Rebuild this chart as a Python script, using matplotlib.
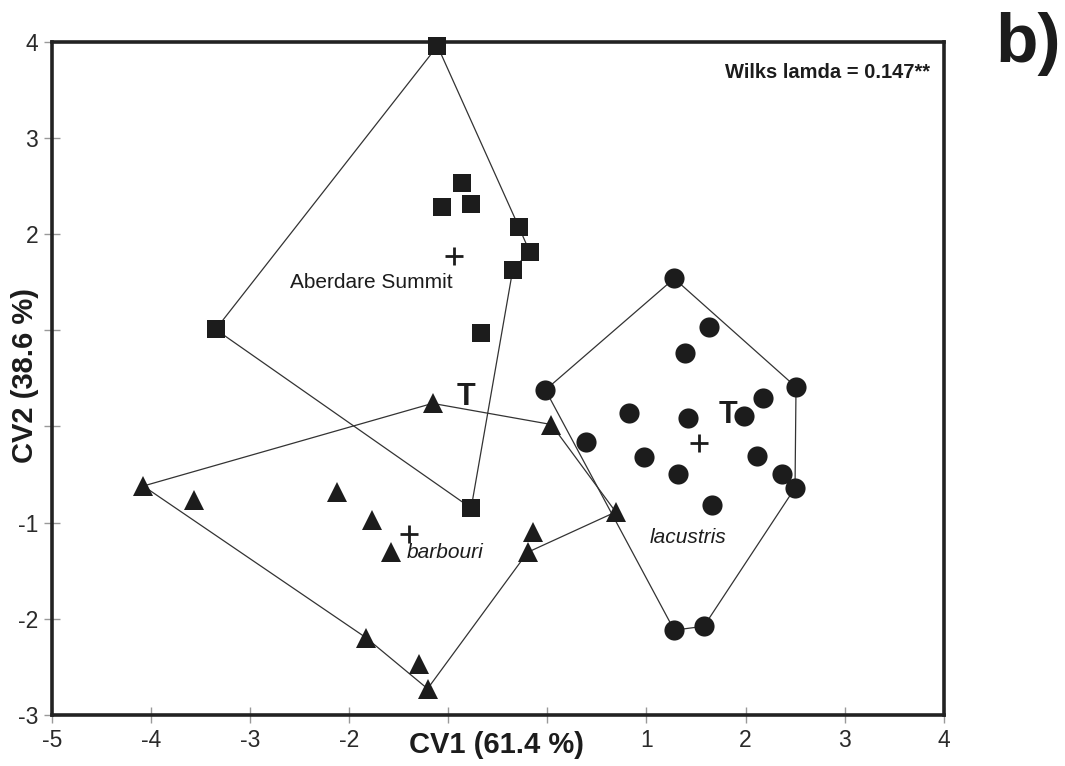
import matplotlib
matplotlib.use("Agg")
import matplotlib.pyplot as plt
import numpy as np

plt.rcParams["font.family"] = ["Liberation Sans", "DejaVu Sans"]

# canonical variate scores
aberdare_x = [-1.11, -0.86, -1.06, -0.77, -0.29, -0.18, -0.35, -0.67, -3.35, -0.77]
aberdare_y = [3.96, 2.53, 2.28, 2.32, 2.08, 1.82, 1.63, 0.97, 1.01, -0.85]

barbouri_x = [-1.16, -4.08, -3.57, -2.12, -1.77, -1.58, -0.15, -0.20, -1.83, -1.30, -1.21, 0.04, 0.69]
barbouri_y = [0.24, -0.62, -0.77, -0.68, -0.97, -1.31, -1.10, -1.31, -2.20, -2.47, -2.73, 0.02, -0.89]

lacustris_x = [1.28, 1.63, 1.39, -0.02, 2.51, 2.18, 0.82, 1.42, 1.98, 0.39, 0.98, 2.12, 2.37, 1.32, 2.50, 1.66, 1.28, 1.58]
lacustris_y = [1.54, 1.03, 0.76, 0.38, 0.41, 0.30, 0.14, 0.09, 0.11, -0.16, -0.32, -0.31, -0.49, -0.49, -0.64, -0.82, -2.12, -2.08]

# which specimens the hand-drawn outline of each group passes through, in order
aberdare_outline = [0, 4, 5, 6, 9, 8, 0]
barbouri_outline = [1, 0, 11, 12, 7, 10, 8, 1]
lacustris_outline = [0, 4, 14, 17, 16, 3, 0]

# group centroids and type specimens
centroid_x = [-0.94, -1.40, 1.53]
centroid_y = [1.77, -1.12, -0.17]
type_x = [-0.82, 1.82]
type_y = [0.31, 0.12]

group_names = ["Aberdare Summit", "barbouri", "lacustris"]
label_x = [-1.78, -1.42, 1.42]
label_y = [1.50, -1.31, -1.16]

xticks = [-5, -4, -3, -2, -1, 0, 1, 2, 3, 4]
xtick_labels = ["-5", "-4", "-3", "-2", "", "", "1", "2", "3", "4"]
yticks = [-3, -2, -1, 0, 1, 2, 3, 4]
ytick_labels = ["-3", "-2", "-1", "", "", "2", "3", "4"]

INK = "#1c1c1c"

fig = plt.figure(figsize=(10.65, 7.66), dpi=100)
ax = fig.add_axes([0.049, 0.067, 0.837, 0.878])

groups = [
    (aberdare_x, aberdare_y, aberdare_outline, "s", 13.5),
    (barbouri_x, barbouri_y, barbouri_outline, "^", 14),
    (lacustris_x, lacustris_y, lacustris_outline, "o", 14.5),
]
for xs, ys, outline, marker, ms in groups:
    xs, ys = np.asarray(xs), np.asarray(ys)
    ax.plot(xs[outline], ys[outline], color="#333333", lw=0.9, zorder=2)
    ax.plot(xs, ys, ls="none", marker=marker, ms=ms, color=INK,
            markeredgewidth=0, zorder=3, clip_on=False)

ax.plot(centroid_x, centroid_y, ls="none", marker="+", ms=13, mew=2,
        color=INK, zorder=4)
for x, y in zip(type_x, type_y):
    ax.text(x, y, "T", fontsize=22, fontweight="bold", color=INK,
            ha="center", va="center", zorder=4)

ax.text(label_x[0], label_y[0], group_names[0], fontsize=15,
        ha="center", va="center", color=INK)
ax.text(label_x[1], label_y[1], group_names[1], fontsize=15, style="italic",
        ha="left", va="center", color=INK)
ax.text(label_x[2], label_y[2], group_names[2], fontsize=15, style="italic",
        ha="center", va="center", color=INK)

ax.text(0.985, 0.955, "Wilks lamda = 0.147**", transform=ax.transAxes,
        fontsize=14.5, fontweight="bold", ha="right", va="center", color=INK)
fig.text(0.965, 0.943, "b)", fontsize=50, fontweight="bold",
         ha="center", va="center", color=INK)

ax.set_xlim(-5, 4)
ax.set_ylim(-3, 4)
ax.set_xticks(xticks)
ax.set_xticklabels(xtick_labels)
ax.set_yticks(yticks)
ax.set_yticklabels(ytick_labels)
ax.tick_params(direction="inout", length=12, width=1, color="#999999",
               labelsize=16.5, labelcolor="#2a2a2a", pad=4)

for spine in ax.spines.values():
    spine.set_linewidth(2.6)
    spine.set_color("#222222")

ax.set_xlabel("CV1 (61.4 %)", fontsize=21, fontweight="bold", color=INK)
ax.xaxis.set_label_coords(0.498, -0.025)
ax.set_ylabel("CV2 (38.6 %)", fontsize=21, fontweight="bold", color=INK)
ax.yaxis.set_label_coords(-0.015, 0.505)

fig.savefig("out.png", dpi=100)
